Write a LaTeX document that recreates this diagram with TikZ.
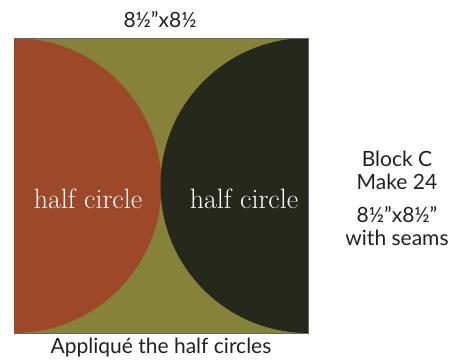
\documentclass[tikz,border=0pt]{standalone}
\usepackage{fontspec}
\setmainfont{Lato}
\newfontfamily\serifface{Latin Modern Roman}
\definecolor{rust}{HTML}{9C4829}
\definecolor{olive}{HTML}{878239}
\definecolor{darkq}{HTML}{26281C}
\definecolor{txt}{HTML}{231F20}
\begin{document}
\begin{tikzpicture}[x=1pt,y=-1pt,
  lbl/.style={text=txt,font=\fontsize{21}{24}\selectfont,inner sep=0pt},
  hc/.style={text=white,font=\serifface\fontsize{28}{30}\selectfont,inner sep=0pt}]
\useasboundingbox (0,0) rectangle (474,362);
\fill[olive] (14,38) rectangle (308,333);
\begin{scope}
\clip (14,38) rectangle (308,333);
\fill[rust] (14,185.5) circle[radius=147.5];
\fill[darkq] (308,185.5) circle[radius=147.5];
\end{scope}
\draw[line width=0.8pt,gray!80!black] (14,38) -- (308,38) -- (308,333) -- (14,333);
\node[lbl] (top) at (160,20) {8½\symbol{34}x8½};
\node[lbl] (bot) at (161,348) {Appliqué the half circles};
\node[hc] (hl) at (88,199) {half circle};
\node[hc] (hr) at (244,199) {half circle};
\node[lbl] (b1) at (397,159) {Block C};
\node[lbl] (b2) at (397,182) {Make 24};
\node[lbl] (b3) at (397,215) {8½\symbol{34}x8½\symbol{34}};
\node[lbl] (b4) at (397,238) {with seams};
\end{tikzpicture}
\end{document}
